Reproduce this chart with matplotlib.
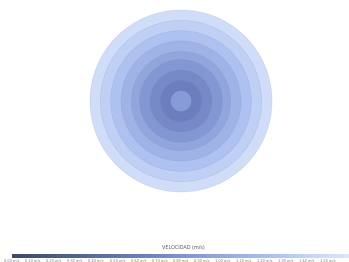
import matplotlib
matplotlib.use("Agg")
import matplotlib.pyplot as plt
from matplotlib.patches import Circle
from matplotlib.colors import LinearSegmentedColormap, Normalize
from matplotlib.colorbar import ColorbarBase

# ring radii (outer to inner) and the velocity of each ring
radii = [8.8, 7.8, 6.8, 5.8, 4.8, 4.0, 3.0, 2.0, 1.0]
velocity = [1.5, 1.38, 1.24, 1.1, 0.98, 0.84, 0.72, 0.62, 0.88]
tick_values = [0.0, 0.1, 0.2, 0.3, 0.4, 0.5, 0.6, 0.7, 0.8, 0.9, 1.0, 1.1, 1.2, 1.3, 1.4, 1.5]
tick_labels = ["%.2f m/s" % v for v in tick_values]

cmap = LinearSegmentedColormap.from_list(
    "vel", [(0.0, "#3b4a66"), (0.38, "#6b7dbd"), (0.55, "#879bd6"),
            (0.75, "#a9bdee"), (1.0, "#dce7fd")])
norm = Normalize(vmin=0.0, vmax=1.6)

W, H = 349, 262
fig = plt.figure(figsize=(W / 100, H / 100), dpi=100)

# concentric rings, centred at (181, 101) px from top-left
ax = fig.add_axes([81 / W, 61 / H, 200 / W, 200 / H])
for r, v in zip(radii, velocity):
    ax.add_patch(Circle((0, 0), r, facecolor=cmap(norm(v)),
                        edgecolor=(0.45, 0.52, 0.72, 0.25), linewidth=0.4))
lim = 8.8 * 100 / 91
ax.set_xlim(-lim, lim)
ax.set_ylim(-lim, lim)
ax.axis("off")

# colorbar at the bottom
cax = fig.add_axes([12 / W, 4 / H, 337 / W, 4 / H])
cb = ColorbarBase(cax, cmap=cmap, norm=norm, orientation="horizontal")
cb.outline.set_visible(False)
cb.set_ticks(tick_values)
cb.set_ticklabels(tick_labels)
cax.tick_params(labelsize=2.5, length=0, pad=1, colors="#777777")
fig.text(0.525, 0.045, "VELOCIDAD (m/s)", ha="center", va="bottom",
         fontsize=3.5, color="#555555")

fig.savefig("out.png", dpi=100)
